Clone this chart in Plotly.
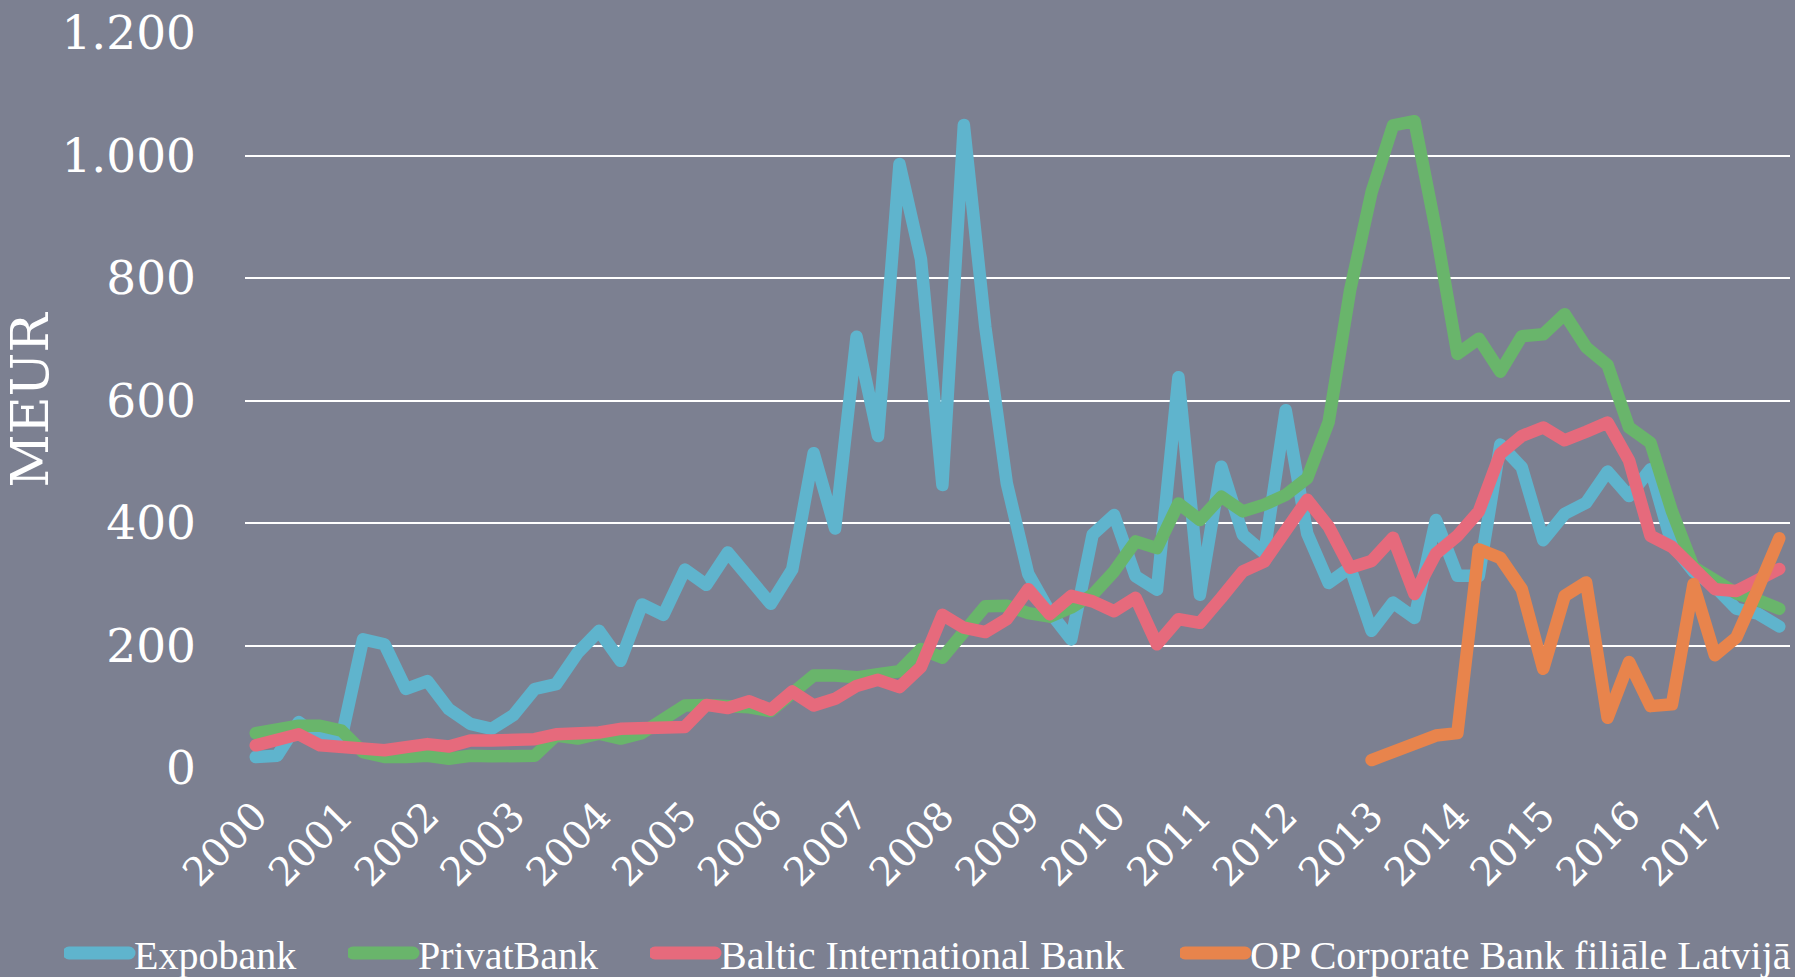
import plotly.graph_objects as go

years = [str(y) for y in range(2000, 2018)]
quarters = list(range(72))  # 2000Q1 .. 2017Q4

expobank = [18, 20, 75, 50, 50, 210, 202, 129, 142, 96, 72, 64, 86, 129, 137, 188,
            224, 175, 267, 250, 324, 299, 352, 310, 268, 324, 514, 391, 704, 542, 986, 831,
            462, 1050, 720, 465, 317, 255, 210, 381, 413, 313, 291, 638, 283, 492, 381, 351,
            584, 383, 302, 327, 224, 270, 245, 405, 314, 314, 528, 491, 372, 415, 433, 484,
            444, 488, 365, 321, 296, 260, 252, 231]
privatbank = [57, 64, 69, 69, 61, 26, 18, 18, 20, 15, 20, 19, 18, 20, 53, 48,
              56, 48, 57, 77, 102, 103, 102, 99, 93, 120, 151, 151, 148, 153, 158, 194,
              180, 222, 264, 265, 253, 247, 262, 283, 321, 370, 359, 432, 405, 443, 419, 430,
              446, 473, 565, 780, 940, 1049, 1056, 878, 676, 701, 647, 705, 708, 741, 687, 658,
              556, 531, 419, 328, 307, 285, 274, 260]
baltic = [37, 45, 55, 37, 36, 34, 29, 34, 39, 35, 45, 45, 46, 47, 55, 56,
          58, 64, 64, 65, 67, 103, 98, 109, 95, 125, 102, 113, 134, 144, 132, 165,
          250, 229, 222, 243, 292, 251, 281, 272, 256, 278, 202, 243, 237, 278, 321, 337,
          386, 438, 394, 327, 338, 376, 284, 350, 379, 419, 513, 542, 556, 535, 549, 564,
          502, 379, 361, 328, 292, 289, 307, 325]
op_corporate = [None] * 52 + [13, 28, 39, 53, 57, 357, 343, 292, 162, 281, 303, 82,
                              173, 101, 104, 300, 184, 213, 292, 375]

series = [
    ("Expobank", expobank, "#5fb4cd", "legend"),
    ("PrivatBank", privatbank, "#69b56b", "legend2"),
    ("Baltic International Bank", baltic, "#e66a7c", "legend3"),
    ("OP Corporate Bank filiāle Latvijā", op_corporate, "#e8844c", "legend4"),
]

fig = go.Figure()
for name, vals, color, lg in series:
    fig.add_trace(go.Scatter(
        x=quarters, y=vals, name=name, mode="lines",
        line=dict(color=color, width=12.5),
        legend=lg, connectgaps=False,
    ))

W, H = 1795, 977
legend_x = [64, 348, 650, 1180]
legend_common = dict(
    orientation="h", xref="container", yref="container",
    xanchor="left", yanchor="middle", y=1 - 953 / H,
    bgcolor="rgba(0,0,0,0)", borderwidth=0,
    font=dict(family="Liberation Serif", size=40, color="white"),
    itemwidth=60,
)
layout_legends = {}
for lg, lx in zip(["legend", "legend2", "legend3", "legend4"], legend_x):
    layout_legends[lg] = dict(legend_common, x=lx / W)

fig.update_layout(
    width=W, height=H,
    paper_bgcolor="#7c8091",
    plot_bgcolor="#7c8091",
    margin=dict(l=245, r=5, t=28, b=209),
    showlegend=True,
    font=dict(family="DejaVu Serif", color="white"),
    xaxis=dict(
        range=[-0.5, 71.5],
        tickmode="array",
        tickvals=[4 * k for k in range(len(years))],
        ticktext=years,
        tickangle=-45,
        tickfont=dict(family="DejaVu Serif", size=39, color="white"),
        showgrid=False, zeroline=False, showline=False, ticks="",
        ticklabelstandoff=16,
    ),
    yaxis=dict(
        range=[0, 1200],
        tickmode="array",
        tickvals=[0, 200, 400, 600, 800, 1000, 1200],
        ticktext=["0", "200", "400", "600", "800", "1.000", "1.200"],
        tickfont=dict(family="DejaVu Serif", size=47, color="white"),
        showgrid=True, gridcolor="white", gridwidth=2,
        zeroline=False, showline=False, ticks="",
        ticklabelstandoff=48,
        title=dict(text="MEUR", font=dict(family="DejaVu Serif", size=52, color="white"),
                   standoff=7),
    ),
    **layout_legends,
)

post = """
document.body.style.margin = '0';
document.body.style.overflow = 'hidden';
var st = document.createElement('style');
st.textContent = 'path.js-line{stroke-linejoin:round;stroke-linecap:round;}' +
  ' .legendlines path.js-line{stroke-width:13px !important;}';
document.head.appendChild(st);
"""
fig.write_html("out.html", post_script=post, config={"displayModeBar": False})
